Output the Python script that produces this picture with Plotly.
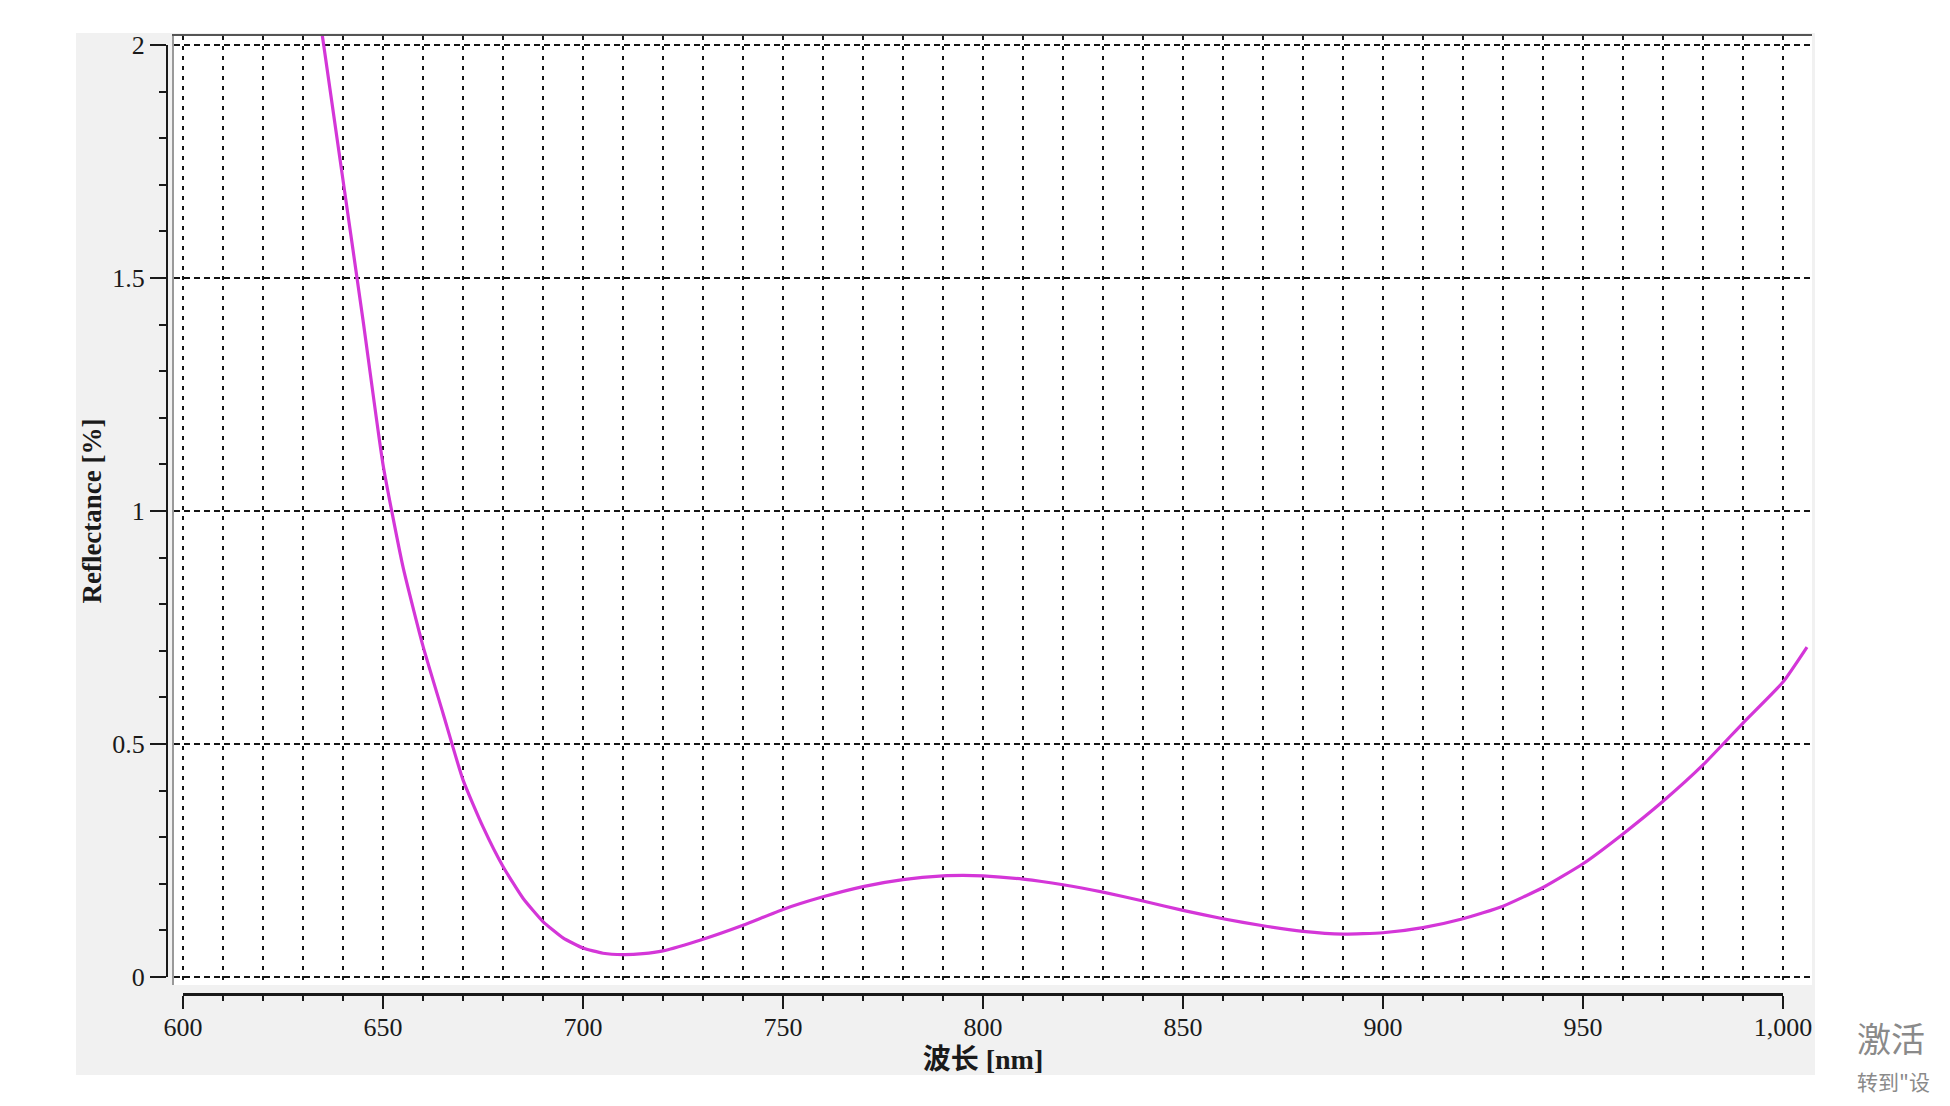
import plotly.graph_objects as go

# ---- data ----
wavelength = [634, 635, 640, 645, 650, 655, 660, 665, 670, 675, 680, 685, 690, 695,
              700, 705, 710, 715, 720, 730, 740, 750, 760, 770, 780, 790, 795, 800,
              810, 820, 830, 840, 850, 860, 870, 880, 890, 900, 910, 920, 930, 940,
              950, 960, 970, 980, 990, 1000, 1006]
reflectance = [2.07, 2.01, 1.71, 1.41, 1.10, 0.88, 0.71, 0.566, 0.423, 0.322, 0.237, 0.169, 0.119, 0.084,
               0.062, 0.051, 0.048, 0.050, 0.056, 0.081, 0.111, 0.145, 0.172, 0.194, 0.209, 0.217, 0.218, 0.217,
               0.210, 0.198, 0.182, 0.163, 0.143, 0.125, 0.110, 0.098, 0.092, 0.095, 0.106, 0.125, 0.152, 0.192,
               0.243, 0.307, 0.377, 0.455, 0.545, 0.633, 0.708]

x_axis_range = [600, 1000]
y_axis_range = [0, 2]
plot_x_range = [597.75, 1007.25]
plot_y_range = [-0.0172, 2.0193]

x_title = "<b>波长 [nm]</b>"
y_title = "<b>Reflectance [%]</b>"
watermark_1 = "激活"
watermark_2 = "转到\"设"

# page body has an 8px margin: the figure starts at (8, 8) on the page
OFF = 8
W, H = 1950 - 2 * OFF, 1106 - 2 * OFF
def fx(px): return (px - OFF) / W
def fy(py): return 1 - (py - OFF) / H

SERIF = "Liberation Serif, Times New Roman, Noto Sans CJK SC, serif"
INK = "#1a1a1a"
GRID = "#141414"

fig = go.Figure()

# curve in the gridded plot area
fig.add_trace(go.Scatter(
    x=wavelength, y=reflectance, mode="lines",
    line=dict(color="#d436d8", width=3.2, shape="spline", smoothing=0.5),
    xaxis="x", yaxis="y", showlegend=False, hoverinfo="x+y"))

# invisible trace to anchor the offset axes
fig.add_trace(go.Scatter(
    x=x_axis_range, y=y_axis_range, mode="markers",
    marker=dict(opacity=0), xaxis="x2", yaxis="y2",
    showlegend=False, hoverinfo="skip"))

fig.update_layout(
    template="none",
    width=W, height=H,
    margin=dict(l=0, r=0, t=0, b=0, autoexpand=False),
    paper_bgcolor="white",
    plot_bgcolor="rgba(0,0,0,0)",
    font=dict(family=SERIF, color=INK),
    xaxis=dict(
        domain=[fx(174), fx(1812)], range=plot_x_range, anchor="y",
        side="top", showline=True, linecolor="#555", linewidth=2,
        showticklabels=False, ticks="", automargin=False,
        showgrid=True, dtick=10, tick0=600, gridcolor=GRID, gridwidth=1.6,
        griddash="4px,6px", zeroline=False, fixedrange=True),
    yaxis=dict(
        domain=[fy(985), fy(36)], range=plot_y_range, anchor="x",
        showline=True, linecolor="#999", linewidth=2,
        showticklabels=False, ticks="", automargin=False,
        showgrid=True, dtick=0.5, tick0=0, gridcolor=GRID, gridwidth=1.6,
        griddash="6px,4px", zeroline=False, fixedrange=True),
    xaxis2=dict(
        domain=[fx(183), fx(1783)], range=x_axis_range, anchor="free",
        position=fy(994), showline=True, linecolor=INK, linewidth=3,
        ticks="outside", ticklen=13, tickwidth=2, tickcolor=INK,
        dtick=50, tick0=600, tickformat=",", showgrid=False, zeroline=False,
        automargin=False, ticklabelstandoff=-4,
        minor=dict(ticks="outside", dtick=10, ticklen=5, tickwidth=2, tickcolor=INK),
        tickfont=dict(family=SERIF, size=26, color=INK),
        title=dict(text=x_title, font=dict(family=SERIF, size=28, color=INK), standoff=8),
        fixedrange=True),
    yaxis2=dict(
        domain=[fy(977), fy(45)], range=y_axis_range, anchor="free",
        position=fx(167), showline=True, linecolor=INK, linewidth=2,
        ticks="outside", ticklen=16, tickwidth=2, tickcolor=INK,
        dtick=0.5, tick0=0, showgrid=False, zeroline=False,
        automargin=False,
        minor=dict(ticks="outside", dtick=0.1, ticklen=7, tickwidth=2, tickcolor=INK),
        tickfont=dict(family=SERIF, size=26, color=INK),
        title=dict(text=y_title, font=dict(family=SERIF, size=27, color=INK), standoff=2),
        fixedrange=True),
    shapes=[
        dict(type="rect", xref="paper", yref="paper",
             x0=fx(76), x1=fx(1815), y0=fy(1075), y1=fy(33),
             fillcolor="#f1f1f1", line=dict(width=0), layer="below"),
        dict(type="rect", xref="paper", yref="paper",
             x0=fx(174), x1=fx(1812), y0=fy(985), y1=fy(36),
             fillcolor="white", line=dict(width=0), layer="below"),
    ],
    annotations=[
        dict(text=watermark_1, xref="paper", yref="paper", x=fx(1855), y=fy(1037),
             xanchor="left", yanchor="middle", showarrow=False,
             font=dict(family="Noto Sans CJK SC", size=34, color="#8a8a8a")),
        dict(text=watermark_2, xref="paper", yref="paper", x=fx(1855), y=fy(1081),
             xanchor="left", yanchor="middle", showarrow=False,
             font=dict(family="Noto Sans CJK SC", size=21, color="#8a8a8a")),
    ],
)

fig.write_html("out.html")
